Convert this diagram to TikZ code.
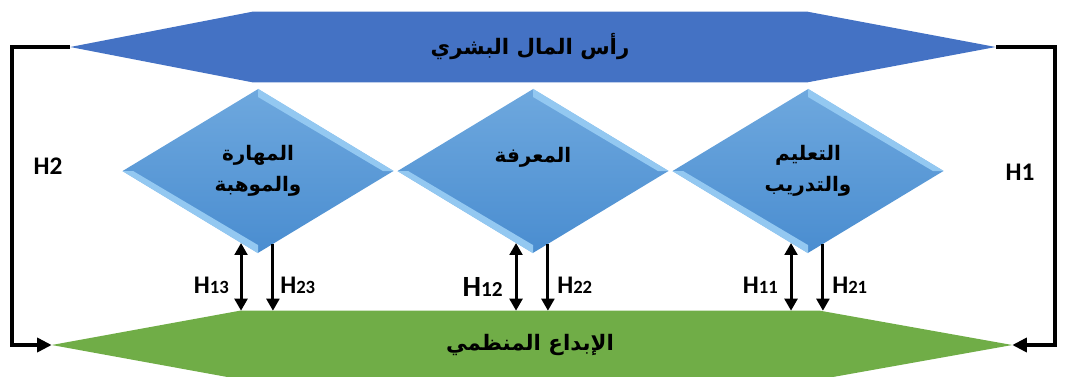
\documentclass[tikz,border=0pt]{standalone}
\usepackage{fontspec}
\setmainfont{Carlito}
\newfontfamily\arabicfont[Script=Arabic]{DejaVu Sans}
\TeXXeTstate=1
\usetikzlibrary{positioning,shapes.geometric,arrows.meta,calc,backgrounds}
\definecolor{capblue}{HTML}{4472C4}
\definecolor{innogreen}{HTML}{70AD47}
\definecolor{facetop}{HTML}{6EA8DE}
\definecolor{facebot}{HTML}{4A8DD0}
\definecolor{bevel}{HTML}{93C8F1}
\newcommand{\hsub}[1]{H{\fontsize{14}{14}\selectfont #1}}

\begin{document}
\begin{tikzpicture}[x=0.75pt, y=-0.75pt, >={Triangle[length=9pt,width=9.5pt]},
    ban/.style={inner sep=0pt, font=\arabicfont\bfseries\fontsize{16}{18}\selectfont},
    dia/.style={diamond, minimum width=203.25pt, minimum height=123pt, inner sep=0pt, top color=facetop, bottom color=facebot, align=center, font=\arabicfont\bfseries\fontsize{15}{23.5}\selectfont},
    link/.style={line width=3pt, line join=miter, -{Triangle[length=11pt,width=10.5pt]}},
    vl/.style={line width=2.25pt},
    hl/.style={font=\bfseries\fontsize{19}{20}\selectfont, inner sep=0pt}]
	\useasboundingbox (0,0) rectangle (1076,376);

	\node[ban, minimum width=416.25pt, minimum height=52.5pt] (cap) at (530,47) {\beginR رأس المال البشري\endR};
	\node[ban, minimum width=435pt, minimum height=51pt] (crea) at (530,345) {\beginR الإبداع المنظمي\endR};
	\coordinate (capL) at ($(cap.west)+(-182,0)$);
	\coordinate (capR) at ($(cap.east)+(188,0)$);
	\coordinate (creaL) at ($(crea.west)+(-188,0)$);
	\coordinate (creaR) at ($(crea.east)+(192,0)$);
	\begin{scope}[on background layer]
		\fill[capblue] (capL) -- (cap.north west) -- (cap.north east) -- (capR) -- (cap.south east) -- (cap.south west) -- cycle;
		\fill[innogreen] (creaL) -- (crea.north west) -- (crea.north east) -- (creaR) -- (crea.south east) -- (crea.south west) -- cycle;
	\end{scope}

	\node[dia] (skill) at (258,171) {\beginR المهارة\endR\\\beginR والموهبة\endR};
	\node[dia] (know) at (533,171) {\beginR المعرفة\endR\\~};
	\node[dia] (train) at (808,171) {\beginR التعليم\endR\\\beginR والتدريب\endR};

	\foreach \d in {skill, know, train} {
		\fill[bevel] (\d.north) -- (\d.east) -- ($(\d.center)!0.92!(\d.east)$) -- ($(\d.center)!0.9!(\d.north)$) -- cycle;
		\fill[bevel] (\d.west) -- (\d.south) -- ($(\d.center)!0.9!(\d.south)$) -- ($(\d.center)!0.92!(\d.west)$) -- cycle;
	}

	\foreach \d/\n in {train/1, know/2, skill/3} {
		\coordinate (u\n) at ($(\d.south)!0.125!(\d.west)$);
		\coordinate (w\n) at ($(\d.south)!0.11!(\d.east)$);
		\draw[vl, <->] (u\n) -- (u\n |- crea.north);
		\draw[vl, ->] (w\n) -- (w\n |- crea.north);
	}

	\draw[link] (capL) -- ++(-58,0) |- (creaL);
	\draw[link, {Triangle[length=11pt,width=10.5pt]}-] (creaR) -- ++(43,0) |- (capR);

	\node[hl] (h2) at (48,166) {H2};
	\node[hl] (h1) at (1020,172) {H1};
	\node[hl, anchor=east] (h13) at (229,285) {\hsub{13}};
	\node[hl, anchor=west] (h23) at (280,285) {\hsub{23}};
	\node[hl, anchor=east, font=\bfseries\fontsize{22}{22}\selectfont] (h12) at (503,287) {H{\fontsize{16}{16}\selectfont 12}};
	\node[hl, anchor=west] (h22) at (557,285) {\hsub{22}};
	\node[hl, anchor=east] (h11) at (778,285) {\hsub{11}};
	\node[hl, anchor=west] (h21) at (832,285) {\hsub{21}};
\end{tikzpicture}
\end{document}
